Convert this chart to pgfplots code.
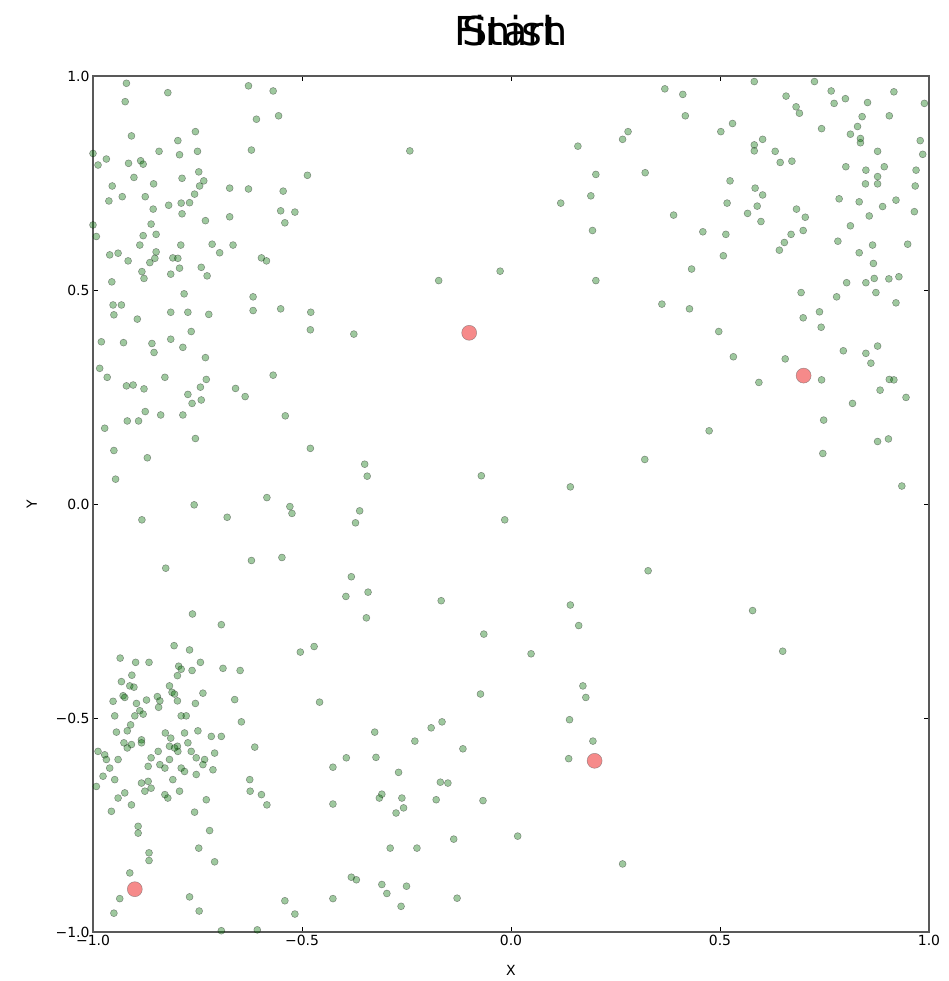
\documentclass[border=0pt]{standalone}
\usepackage{fontspec}
\setmainfont{DejaVu Sans}
\usepackage{pgfplots}
\usepackage{pgfplotstable}
\pgfplotsset{compat=1.18}

\definecolor{dotgreen}{RGB}{0,110,0}
\definecolor{dotred}{RGB}{240,60,60}

% random walkers (green)
\pgfplotstableread{
x y
-0.920 0.983
-0.821 0.961
-0.923 0.940
-0.628 0.977
-0.569 0.965
-0.609 0.899
-0.556 0.907
-0.908 0.860
-0.755 0.870
-0.797 0.849
-0.842 0.824
-0.793 0.816
-0.750 0.824
-0.621 0.827
-1.000 0.819
-0.968 0.806
-0.988 0.792
-0.915 0.796
-0.886 0.802
-0.880 0.794
-0.902 0.763
-0.787 0.761
-0.747 0.776
-0.735 0.755
-0.745 0.743
-0.487 0.768
-0.954 0.743
-0.855 0.748
-0.673 0.738
-0.628 0.736
-0.545 0.731
-0.930 0.718
-0.962 0.708
-0.875 0.718
-0.757 0.724
-0.819 0.698
-0.789 0.703
-0.769 0.704
-0.856 0.689
-0.787 0.678
-0.673 0.671
-0.551 0.685
-0.517 0.682
-0.541 0.657
-0.731 0.662
-0.861 0.654
-1.000 0.652
-0.992 0.625
-0.880 0.627
-0.849 0.630
-0.888 0.605
-0.790 0.605
-0.715 0.607
-0.665 0.605
-0.697 0.587
-0.597 0.575
-0.585 0.568
-0.960 0.582
-0.940 0.586
-0.916 0.568
-0.849 0.589
-0.852 0.574
-0.864 0.564
-0.809 0.575
-0.797 0.574
-0.883 0.543
-0.878 0.527
-0.814 0.537
-0.793 0.551
-0.741 0.553
-0.727 0.533
-0.955 0.519
-0.242 0.825
0.280 0.870
0.267 0.852
0.160 0.836
0.321 0.774
0.203 0.770
0.191 0.720
0.119 0.703
0.195 0.639
-0.026 0.544
-0.173 0.522
0.203 0.522
0.368 0.970
0.411 0.957
0.417 0.907
0.502 0.870
0.530 0.889
0.582 0.987
0.658 0.953
0.726 0.987
0.766 0.965
0.773 0.936
0.800 0.947
0.853 0.938
0.916 0.963
0.989 0.936
0.682 0.928
0.690 0.913
0.840 0.905
0.905 0.907
0.743 0.877
0.829 0.882
0.812 0.864
0.836 0.854
0.836 0.844
0.602 0.852
0.582 0.839
0.582 0.825
0.632 0.824
0.644 0.798
0.672 0.801
0.877 0.824
0.979 0.849
0.985 0.817
0.801 0.788
0.849 0.780
0.893 0.788
0.877 0.765
0.877 0.748
0.848 0.748
0.969 0.780
0.967 0.743
0.524 0.755
0.584 0.738
0.602 0.722
0.517 0.703
0.589 0.696
0.566 0.679
0.598 0.660
0.389 0.675
0.459 0.636
0.514 0.630
0.508 0.580
0.432 0.549
0.683 0.689
0.704 0.670
0.699 0.639
0.670 0.630
0.654 0.611
0.642 0.593
0.785 0.713
0.833 0.706
0.889 0.695
0.921 0.710
0.857 0.673
0.965 0.683
0.812 0.650
0.782 0.614
0.833 0.587
0.865 0.605
0.949 0.607
0.867 0.562
0.803 0.517
0.849 0.517
0.869 0.527
0.904 0.526
0.928 0.531
-0.782 0.491
-0.952 0.465
-0.932 0.465
-0.950 0.442
-0.894 0.432
-0.814 0.448
-0.773 0.448
-0.723 0.443
-0.617 0.484
-0.617 0.452
-0.551 0.456
-0.479 0.448
-0.480 0.407
-0.376 0.397
-0.765 0.403
-0.980 0.379
-0.927 0.377
-0.859 0.375
-0.854 0.354
-0.814 0.385
-0.785 0.366
-0.731 0.342
-0.984 0.317
-0.966 0.296
-0.920 0.276
-0.904 0.278
-0.878 0.269
-0.828 0.296
-0.729 0.291
-0.743 0.273
-0.773 0.256
-0.763 0.235
-0.741 0.243
-0.659 0.270
-0.636 0.251
-0.569 0.301
-0.875 0.216
-0.838 0.208
-0.785 0.208
-0.918 0.194
-0.891 0.194
-0.540 0.206
-0.972 0.177
-0.755 0.153
-0.950 0.125
-0.870 0.108
-0.480 0.130
-0.946 0.058
-0.350 0.093
-0.344 0.065
-0.584 0.015
-0.071 0.066
0.142 0.040
0.320 0.104
0.361 0.467
0.427 0.456
0.694 0.494
0.779 0.484
0.873 0.494
0.921 0.470
0.699 0.435
0.738 0.449
0.742 0.413
0.497 0.403
0.532 0.344
0.656 0.339
0.593 0.284
0.743 0.290
0.795 0.358
0.849 0.352
0.877 0.369
0.861 0.329
0.905 0.291
0.916 0.290
0.883 0.266
0.945 0.249
0.817 0.235
0.748 0.196
0.474 0.171
0.877 0.146
0.903 0.152
0.746 0.118
0.935 0.042
-0.758 -0.002
-0.883 -0.037
-0.679 -0.031
-0.529 -0.006
-0.524 -0.022
-0.362 -0.016
-0.372 -0.044
-0.826 -0.150
-0.621 -0.132
-0.548 -0.125
-0.382 -0.170
-0.342 -0.206
-0.395 -0.216
-0.346 -0.266
-0.762 -0.257
-0.693 -0.282
-0.806 -0.331
-0.769 -0.341
-0.471 -0.333
-0.504 -0.346
-0.935 -0.360
-0.898 -0.370
-0.866 -0.370
-0.743 -0.370
-0.795 -0.379
-0.789 -0.386
-0.798 -0.401
-0.763 -0.389
-0.689 -0.384
-0.648 -0.389
-0.907 -0.400
-0.932 -0.415
-0.912 -0.425
-0.902 -0.428
-0.817 -0.425
-0.811 -0.440
-0.805 -0.444
-0.928 -0.448
-0.924 -0.452
-0.737 -0.442
-0.952 -0.461
-0.896 -0.466
-0.872 -0.458
-0.846 -0.450
-0.840 -0.460
-0.798 -0.460
-0.755 -0.466
-0.661 -0.457
-0.458 -0.463
-0.888 -0.483
-0.880 -0.491
-0.900 -0.495
-0.948 -0.495
-0.843 -0.475
-0.789 -0.495
-0.777 -0.495
-0.015 -0.037
0.328 -0.156
-0.167 -0.226
0.142 -0.236
0.162 -0.284
-0.065 -0.304
0.048 -0.350
-0.073 -0.444
0.172 -0.425
0.179 -0.452
0.578 -0.249
0.650 -0.344
-0.944 -0.533
-0.918 -0.530
-0.910 -0.516
-0.884 -0.551
-0.884 -0.558
-0.827 -0.535
-0.814 -0.547
-0.798 -0.566
-0.797 -0.578
-0.781 -0.535
-0.749 -0.530
-0.717 -0.543
-0.693 -0.543
-0.773 -0.558
-0.765 -0.578
-0.753 -0.593
-0.733 -0.597
-0.737 -0.609
-0.709 -0.582
-0.713 -0.621
-0.613 -0.568
-0.645 -0.509
-0.988 -0.578
-0.972 -0.586
-0.968 -0.597
-0.940 -0.597
-0.926 -0.558
-0.918 -0.570
-0.908 -0.562
-0.861 -0.593
-0.844 -0.578
-0.817 -0.566
-0.805 -0.570
-0.817 -0.597
-0.840 -0.609
-0.828 -0.617
-0.789 -0.617
-0.781 -0.625
-0.753 -0.632
-0.868 -0.613
-0.960 -0.617
-0.976 -0.636
-0.948 -0.644
-0.809 -0.644
-0.992 -0.660
-0.884 -0.652
-0.868 -0.648
-0.861 -0.664
-0.876 -0.671
-0.924 -0.675
-0.940 -0.687
-0.908 -0.703
-0.828 -0.679
-0.821 -0.687
-0.793 -0.671
-0.729 -0.691
-0.625 -0.644
-0.624 -0.671
-0.597 -0.679
-0.584 -0.703
-0.956 -0.718
-0.757 -0.720
-0.892 -0.753
-0.892 -0.769
-0.721 -0.763
-0.747 -0.804
-0.866 -0.815
-0.866 -0.833
-0.709 -0.836
-0.912 -0.862
-0.936 -0.922
-0.950 -0.956
-0.769 -0.918
-0.746 -0.951
-0.541 -0.927
-0.517 -0.958
-0.426 -0.615
-0.426 -0.701
-0.426 -0.922
-0.394 -0.593
-0.382 -0.872
-0.370 -0.878
-0.693 -0.997
-0.607 -0.995
-0.326 -0.533
-0.191 -0.523
-0.165 -0.509
-0.230 -0.554
-0.115 -0.572
-0.323 -0.592
-0.269 -0.627
-0.169 -0.650
-0.151 -0.652
-0.309 -0.678
-0.315 -0.687
-0.261 -0.687
-0.179 -0.691
-0.067 -0.693
-0.257 -0.710
-0.275 -0.722
-0.137 -0.783
0.016 -0.776
-0.289 -0.804
-0.225 -0.804
-0.309 -0.889
-0.297 -0.910
-0.250 -0.893
-0.263 -0.940
-0.129 -0.921
0.140 -0.504
0.196 -0.554
0.138 -0.595
0.267 -0.841
}\walkers

% start / finish targets (red)
\pgfplotstableread{
x y
-0.9 -0.9
-0.1 0.4
0.2 -0.6
0.7 0.3
}\targets

\begin{document}
\begin{tikzpicture}
\begin{axis}[
  scale only axis,
  width=836bp, height=856bp,
  xmin=-1, xmax=1, ymin=-1, ymax=1,
  xtick={-1,-0.5,0,0.5,1},
  ytick={-1,-0.5,0,0.5,1},
  xticklabels={−1.0,−0.5,0.0,0.5,1.0},
  yticklabels={−1.0,−0.5,0.0,0.5,1.0},
  tick align=inside,
  major tick length=5bp,
  tick style={black, line width=0.8bp},
  axis line style={black!65, line width=1.3bp},
  ticklabel style={font=\fontsize{14}{14}\selectfont},
  label style={font=\fontsize{14}{14}\selectfont},
  xlabel={X}, ylabel={Y},
  xlabel style={yshift=-12bp},
  ylabel style={yshift=12bp},
  title={\makebox[0pt][c]{Start}\makebox[0pt][c]{Finish}},
  title style={font=\fontsize{40}{40}\selectfont, at={(0.5,1)}, anchor=base, yshift=25bp},
]
\addplot[only marks, mark=*, mark size=3.5bp,
  mark options={fill=dotgreen, draw=black, line width=0.5bp, opacity=0.38}]
  table[x=x, y=y] {\walkers};
\addplot[only marks, mark=*, mark size=7.5bp,
  mark options={fill=dotred, draw=black!60, line width=0.5bp, opacity=0.6}]
  table[x=x, y=y] {\targets};
\end{axis}
\pgfresetboundingbox
\path ([shift={(-93bp,-49bp)}]current axis.south west)
  rectangle ([shift={(20bp,76bp)}]current axis.north east);
\end{tikzpicture}
\end{document}
